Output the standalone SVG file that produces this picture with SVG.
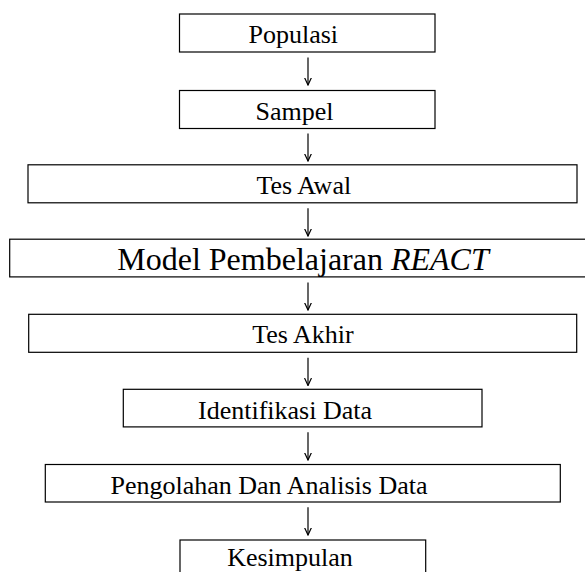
<svg xmlns="http://www.w3.org/2000/svg" width="585" height="572" viewBox="0 0 585 572">
  <style>
    .box { fill: #ffffff; stroke: #000000; stroke-width: 1.2; }
    .lbl { font-family: "Liberation Serif", "Times New Roman", serif; font-size: 26px; fill: #000000; text-anchor: middle; }
    .big { font-size: 32px; }
    .conn { stroke: #000000; stroke-width: 1.2; fill: none; }
  </style>
  <defs>
    <marker id="arr" viewBox="0 0 8 8" refX="7.5" refY="4" markerWidth="8" markerHeight="8" markerUnits="userSpaceOnUse" orient="auto">
      <path d="M0,0.5 L7.5,4 L0,7.5" fill="none" stroke="#000000" stroke-width="1.2"/>
    </marker>
  </defs>
  <rect x="0" y="0" width="585" height="572" fill="#ffffff"/>

  <g id="populasi">
    <rect class="box" x="179.5" y="14" width="255.5" height="38"/>
    <text class="lbl" x="293.3" y="43">Populasi</text>
  </g>
  <g id="sampel">
    <rect class="box" x="179.5" y="90.5" width="255.5" height="38"/>
    <text class="lbl" x="294.5" y="119.5">Sampel</text>
  </g>
  <g id="tes-awal">
    <rect class="box" x="28" y="164.8" width="549" height="38"/>
    <text class="lbl" x="303.8" y="193.5">Tes Awal</text>
  </g>
  <g id="model">
    <rect class="box" x="9.7" y="239.2" width="600" height="37.7"/>
    <text class="lbl big" x="303" y="270">Model Pembelajaran <tspan font-style="italic">REACT</tspan></text>
  </g>
  <g id="tes-akhir">
    <rect class="box" x="28.7" y="314.3" width="548" height="38"/>
    <text class="lbl" x="303" y="343">Tes Akhir</text>
  </g>
  <g id="identifikasi">
    <rect class="box" x="123.3" y="389.3" width="358.7" height="37.6"/>
    <text class="lbl" x="285" y="419">Identifikasi Data</text>
  </g>
  <g id="pengolahan">
    <rect class="box" x="45.3" y="464.5" width="515" height="37.5"/>
    <text class="lbl" x="269" y="494">Pengolahan Dan Analisis Data</text>
  </g>
  <g id="kesimpulan">
    <rect class="box" x="180" y="540" width="245.7" height="40"/>
    <text class="lbl" x="290" y="565.5">Kesimpulan</text>
  </g>

  <g id="connectors">
    <line class="conn" x1="308" y1="57.5" x2="308" y2="85" marker-end="url(#arr)"/>
    <line class="conn" x1="308" y1="133.5" x2="308" y2="161" marker-end="url(#arr)"/>
    <line class="conn" x1="308" y1="208.3" x2="308" y2="236" marker-end="url(#arr)"/>
    <line class="conn" x1="308" y1="282.5" x2="308" y2="310" marker-end="url(#arr)"/>
    <line class="conn" x1="308" y1="357.8" x2="308" y2="385.5" marker-end="url(#arr)"/>
    <line class="conn" x1="308" y1="432.3" x2="308" y2="460" marker-end="url(#arr)"/>
    <line class="conn" x1="308" y1="507.3" x2="308" y2="535" marker-end="url(#arr)"/>
  </g>
</svg>
